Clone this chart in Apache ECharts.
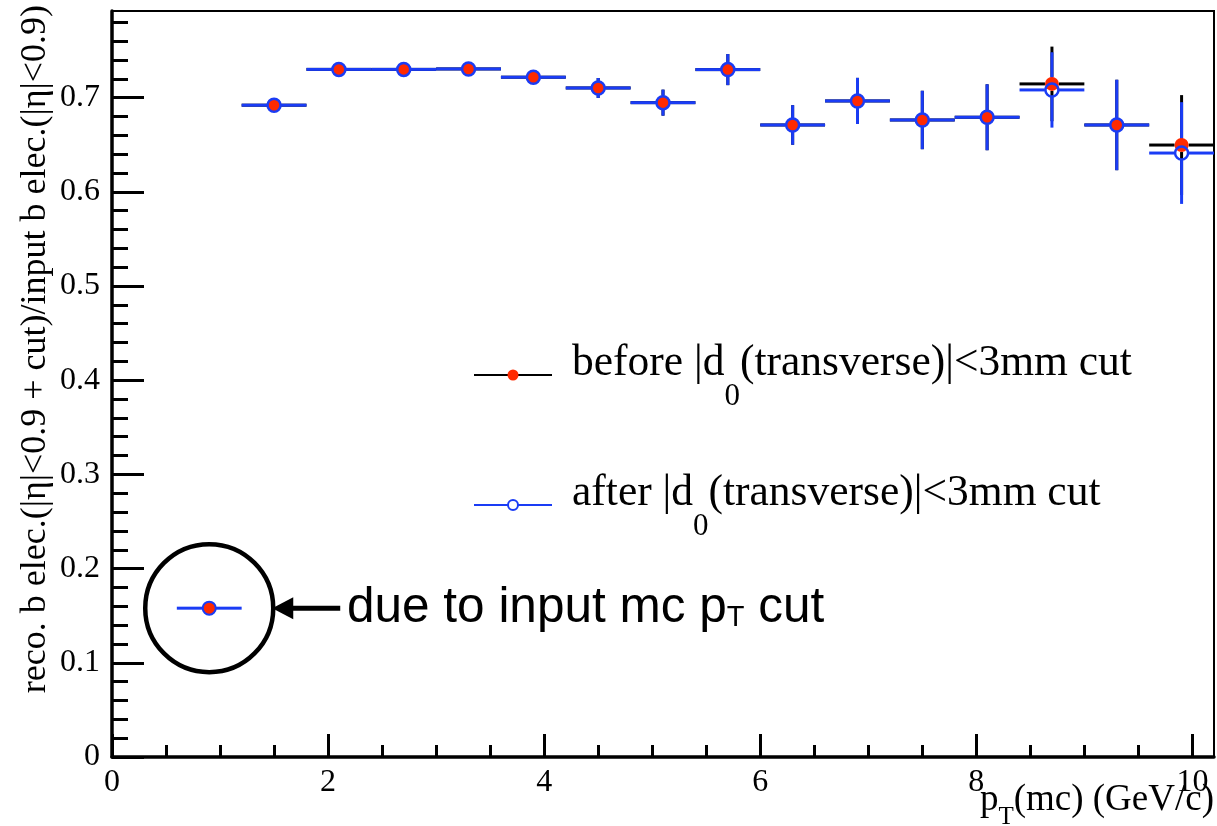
<!DOCTYPE html>
<html>
<head>
<meta charset="utf-8">
<script src="https://cdn.jsdelivr.net/npm/echarts@6/dist/echarts.min.js"></script>
<style>
  html, body { margin: 0; padding: 0; background: #ffffff; }
  #chart { width: 1217px; height: 826px; }
</style>
</head>
<body>
<div id="chart"></div>
<script>
// ---- data ----
const binCenters   = [1.5, 2.1, 2.7, 3.3, 3.9, 4.5, 5.1, 5.7, 6.3, 6.9, 7.5, 8.1, 8.7, 9.3, 9.9];
const binHalfWidth = 0.3;
const beforeValues = [0.692, 0.730, 0.730, 0.7305, 0.7217, 0.7103, 0.6947, 0.7298, 0.671, 0.6965, 0.6763, 0.6792, 0.7146, 0.671, 0.6497];
const beforeErrors = [0.003, 0.004, 0.005, 0.006, 0.007, 0.0106, 0.0138, 0.0165, 0.021, 0.0245, 0.031, 0.035, 0.0396, 0.048, 0.053];
const afterValues  = [0.692, 0.730, 0.730, 0.7305, 0.7217, 0.7103, 0.6947, 0.7298, 0.671, 0.6965, 0.6763, 0.6792, 0.7082, 0.671, 0.6412];
const afterErrors  = [0.003, 0.004, 0.005, 0.006, 0.007, 0.0106, 0.0138, 0.0165, 0.021, 0.0245, 0.031, 0.035, 0.040, 0.048, 0.054];
// low-pT bin removed by the generator-level cut
const cutBinCenters = [0.9];
const cutBinValues  = [0.158];

const xMin = 0, xMax = 10.2;
const yMin = 0, yMax = 0.792;
const xMajorTicks = [0, 2, 4, 6, 8, 10];
const xMinorTicks = [0.5, 1, 1.5, 2.5, 3, 3.5, 4.5, 5, 5.5, 6.5, 7, 7.5, 8.5, 9, 9.5];
const yMajorTicks = [0, 0.1, 0.2, 0.3, 0.4, 0.5, 0.6, 0.7];
const yMinorTicks = [0.02, 0.04, 0.06, 0.08, 0.12, 0.14, 0.16, 0.18, 0.22, 0.24, 0.26, 0.28,
                     0.32, 0.34, 0.36, 0.38, 0.42, 0.44, 0.46, 0.48, 0.52, 0.54, 0.56, 0.58,
                     0.62, 0.64, 0.66, 0.68, 0.72, 0.74, 0.76, 0.78];

const RED = '#ff2a00';
const BLUE = '#1a3cf5';
const SERIF = '"Liberation Serif", "Times New Roman", serif';
const SANS = '"Liberation Sans", Arial, Helvetica, sans-serif';

function zip3(xs, ys, es) { return xs.map((x, i) => [x, ys[i], es ? es[i] : 0]); }

// horizontal bin-width bar + vertical error bar, leaving a gap around the marker
function errorBars(color, gap, lw) {
  return function (params, api) {
    const x = api.value(0), y = api.value(1), e = api.value(2);
    const c = api.coord([x, y]);
    const l = api.coord([x - binHalfWidth, y]);
    const r = api.coord([x + binHalfWidth, y]);
    const t = api.coord([x, y + e]);
    const b = api.coord([x, y - e]);
    const st = { stroke: color, lineWidth: lw };
    const kids = [
      { type: 'line', shape: { x1: l[0], y1: c[1], x2: c[0] - gap, y2: c[1] }, style: st },
      { type: 'line', shape: { x1: c[0] + gap, y1: c[1], x2: r[0], y2: c[1] }, style: st }
    ];
    if (c[1] - t[1] > gap) kids.push({ type: 'line', shape: { x1: c[0], y1: t[1], x2: c[0], y2: c[1] - gap }, style: st });
    if (b[1] - c[1] > gap) kids.push({ type: 'line', shape: { x1: c[0], y1: c[1] + gap, x2: c[0], y2: b[1] }, style: st });
    return { type: 'group', children: kids };
  };
}

const chart = echarts.init(document.getElementById('chart'), null, { renderer: 'canvas' });

const tickLabelStyle = { fontFamily: SERIF, fontSize: 32, color: '#000' };

chart.setOption({
  animation: false,
  backgroundColor: '#ffffff',
  grid: { left: 112, top: 11, right: 3, bottom: 69, show: true, borderColor: '#000', borderWidth: 2, backgroundColor: 'transparent' },
  xAxis: [
    {
      type: 'value', position: 'bottom', min: xMin, max: xMax,
      splitLine: { show: false },
      axisLine: { show: true, lineStyle: { color: '#000', width: 3.5 } },
      axisTick: { show: true, inside: true, length: 23, lineStyle: { color: '#000', width: 3 }, customValues: xMajorTicks },
      axisLabel: { show: true, margin: 10, customValues: xMajorTicks, ...tickLabelStyle }
    },
    {
      type: 'value', position: 'bottom', min: xMin, max: xMax,
      splitLine: { show: false },
      axisLine: { show: false },
      axisTick: { show: true, inside: true, length: 12, lineStyle: { color: '#000', width: 3 }, customValues: xMinorTicks },
      axisLabel: { show: false }
    }
  ],
  yAxis: [
    {
      type: 'value', position: 'left', min: yMin, max: yMax,
      splitLine: { show: false },
      axisLine: { show: true, lineStyle: { color: '#000', width: 3.5 } },
      axisTick: { show: true, inside: true, length: 32, lineStyle: { color: '#000', width: 3 }, customValues: yMajorTicks },
      axisLabel: { show: true, margin: 12, customValues: yMajorTicks, formatter: v => String(+v.toFixed(1)), ...tickLabelStyle }
    },
    {
      type: 'value', position: 'left', min: yMin, max: yMax,
      splitLine: { show: false },
      axisLine: { show: false },
      axisTick: { show: true, inside: true, length: 16, lineStyle: { color: '#000', width: 3 }, customValues: yMinorTicks },
      axisLabel: { show: false }
    }
  ],
  series: [
    {
      name: 'before bars', type: 'custom', xAxisIndex: 0, yAxisIndex: 0, z: 2,
      renderItem: errorBars('#000000', 7, 3),
      encode: { x: 0, y: 1 },
      data: zip3(binCenters, beforeValues, beforeErrors)
    },
    {
      name: 'after bars', type: 'custom', xAxisIndex: 0, yAxisIndex: 0, z: 3,
      renderItem: errorBars(BLUE, 7, 3),
      encode: { x: 0, y: 1 },
      data: zip3(binCenters, afterValues, afterErrors)
    },
    {
      name: 'cut bar', type: 'custom', xAxisIndex: 0, yAxisIndex: 0, z: 3,
      renderItem: errorBars(BLUE, 6, 3),
      encode: { x: 0, y: 1 },
      data: zip3(cutBinCenters, cutBinValues, null)
    },
    {
      name: 'before', type: 'scatter', xAxisIndex: 0, yAxisIndex: 0, z: 4,
      symbol: 'circle', symbolSize: 14,
      itemStyle: { color: RED, opacity: 1 },
      data: binCenters.map((x, i) => [x, beforeValues[i]])
    },
    {
      name: 'after', type: 'scatter', xAxisIndex: 0, yAxisIndex: 0, z: 5,
      symbol: 'circle', symbolSize: 13,
      itemStyle: { color: 'rgba(0,0,0,0)', borderColor: BLUE, borderWidth: 2.5, opacity: 1 },
      data: binCenters.map((x, i) => [x, afterValues[i]])
    },
    {
      name: 'cut point', type: 'scatter', xAxisIndex: 0, yAxisIndex: 0, z: 5,
      symbol: 'circle', symbolSize: 13,
      itemStyle: { color: RED, borderColor: BLUE, borderWidth: 2, opacity: 1 },
      data: cutBinCenters.map((x, i) => [x, cutBinValues[i]])
    }
  ]
});

// ---- text runs with sub-scripts ----
const measureCtx = document.createElement('canvas').getContext('2d');
function textWidth(str, size, family) {
  measureCtx.font = size + 'px ' + family;
  return measureCtx.measureText(str).width;
}
// runs: [{text, size, dy}] laid out left to right from x, y = vertical middle of the main text
function runsToGraphic(x, y, runs, family, alignRight) {
  const total = runs.reduce((s, r) => s + textWidth(r.text, r.size, family), 0);
  let cx = alignRight ? x - total : x;
  const out = [];
  runs.forEach(r => {
    out.push({
      type: 'text', x: cx, y: y + (r.dy || 0), z: 10,
      style: { text: r.text, fontFamily: family, fontSize: r.size, fill: '#000', align: 'left', verticalAlign: 'middle' }
    });
    cx += textWidth(r.text, r.size, family);
  });
  return out;
}

const graphics = [];

// legend
graphics.push(
  { type: 'line', shape: { x1: 474, y1: 375, x2: 552, y2: 375 }, style: { stroke: '#000', lineWidth: 2 }, z: 10 },
  { type: 'circle', shape: { cx: 513, cy: 375, r: 5.5 }, style: { fill: RED }, z: 11 },
  { type: 'line', shape: { x1: 474, y1: 505, x2: 552, y2: 505 }, style: { stroke: BLUE, lineWidth: 2 }, z: 10 },
  { type: 'circle', shape: { cx: 513, cy: 505, r: 5 }, style: { fill: '#fff', stroke: BLUE, lineWidth: 2 }, z: 11 }
);
graphics.push(...runsToGraphic(572, 364, [
  { text: 'before |d', size: 43.5 },
  { text: '0', size: 31, dy: 33 },
  { text: '(transverse)|<3mm cut', size: 43.5 }
], SERIF, false));
graphics.push(...runsToGraphic(572, 494, [
  { text: 'after |d', size: 43.5 },
  { text: '0', size: 31, dy: 33 },
  { text: '(transverse)|<3mm cut', size: 43.5 }
], SERIF, false));

// x axis title
graphics.push(...runsToGraphic(1214, 800, [
  { text: 'p', size: 37 },
  { text: 'T', size: 25, dy: 17 },
  { text: '(mc) (GeV/c)', size: 37 }
], SERIF, true));

// y axis title
graphics.push({
  type: 'text', x: 36, y: 5, rotation: Math.PI / 2, z: 10,
  style: { text: 'reco. b elec.(|η|<0.9 + cut)/input b elec.(|η|<0.9)', fontFamily: SERIF, fontSize: 36, fill: '#000', align: 'right', verticalAlign: 'middle' }
});

// annotation around the low-pT bin
const cutPx = chart.convertToPixel({ xAxisIndex: 0, yAxisIndex: 0 }, [cutBinCenters[0], cutBinValues[0]]);
graphics.push(
  { type: 'circle', shape: { cx: cutPx[0], cy: cutPx[1], r: 64 }, style: { fill: 'none', stroke: '#000', lineWidth: 4.5 }, z: 10 },
  { type: 'line', shape: { x1: cutPx[0] + 80, y1: cutPx[1], x2: cutPx[0] + 131, y2: cutPx[1] }, style: { stroke: '#000', lineWidth: 5 }, z: 10 },
  { type: 'polygon', shape: { points: [[cutPx[0] + 63, cutPx[1]], [cutPx[0] + 84, cutPx[1] - 11], [cutPx[0] + 84, cutPx[1] + 11]] }, style: { fill: '#000' }, z: 10 }
);
graphics.push(...runsToGraphic(347, cutPx[1], [
  { text: 'due to input mc p', size: 49.5 },
  { text: 'T', size: 29, dy: 10 },
  { text: ' cut', size: 49.5 }
], SANS, false));

chart.setOption({ graphic: graphics });
</script>
</body>
</html>
